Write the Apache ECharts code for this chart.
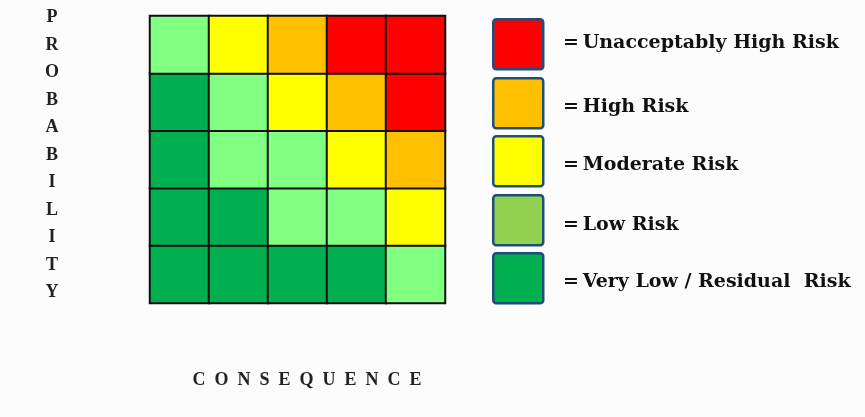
<!DOCTYPE html>
<html>
<head>
<meta charset="utf-8">
<script src="https://cdn.jsdelivr.net/npm/echarts@6/dist/echarts.min.js"></script>
<style>
html,body{margin:0;padding:0;background:#fcfcfc;}
#chart{width:865px;height:417px;}
</style>
</head>
<body>
<div id="chart"></div>
<script>
// Consequence (columns, left to right) and probability (rows, bottom to top)
const consequence = ['1', '2', '3', '4', '5'];
const probability = ['1', '2', '3', '4', '5'];
// Risk level per cell: rows listed from probability 1 (bottom) to 5 (top)
// 1 = very low, 2 = low, 3 = moderate, 4 = high, 5 = unacceptably high
const riskRows = [
  [1, 1, 1, 1, 2],
  [1, 1, 2, 2, 3],
  [1, 2, 2, 3, 4],
  [1, 2, 3, 4, 5],
  [2, 3, 4, 5, 5]
];
const levelColors = ['#00B050', '#80FF80', '#FFFF00', '#FFC000', '#FF0000'];
const legendLabels = ['=\u2009Unacceptably High Risk', '=\u2009High Risk', '=\u2009Moderate Risk', '=\u2009Low Risk', '=\u2009Very Low / Residual  Risk'];
const legendColors = ['#FF0000', '#FFC000', '#FFFF00', '#92D050', '#00B050'];
const yTitle = 'PROBABILITY';
const xTitle = 'CONSEQUENCE';

const data = [];
riskRows.forEach((row, r) => row.forEach((v, c) => data.push([c, r, v])));

const chart = echarts.init(document.getElementById('chart'));
const serif = '"Liberation Serif", "DejaVu Serif", serif';
const legendFont = '"DejaVu Serif", serif';

const legendBoxTops = [18, 77, 135, 194, 252];
const legendTextY = [43, 107, 165, 225, 282];
const graphics = [];
legendColors.forEach((col, i) => {
  graphics.push({
    type: 'rect', left: 492, top: legendBoxTops[i],
    shape: { width: 50, height: 50, r: 3 },
    style: { fill: col, stroke: '#1F4E79', lineWidth: 2.5 }
  });
  graphics.push({
    type: 'text', x: 563, y: legendTextY[i],
    style: { text: legendLabels[i], fill: '#111', font: 'bold 19px ' + legendFont, textVerticalAlign: 'middle' }
  });
});
graphics.push({
  type: 'text', x: 52, y: 4,
  style: { text: yTitle.split('').join('\n'), fill: '#222', font: 'bold 18px ' + serif, textAlign: 'center', lineHeight: 27.5 }
});
graphics.push({
  type: 'text', x: 307, y: 380,
  style: { text: xTitle.split('').join('\u2002'), fill: '#222', font: 'bold 18px ' + serif, textAlign: 'center', textVerticalAlign: 'middle' }
});

chart.setOption({
  backgroundColor: '#fcfcfc',
  animation: false,
  grid: { left: 150, top: 16, width: 295, height: 287 },
  xAxis: { type: 'category', data: consequence, axisLine: { show: false }, axisTick: { show: false }, axisLabel: { show: false }, splitLine: { show: false } },
  yAxis: { type: 'category', data: probability, axisLine: { show: false }, axisTick: { show: false }, axisLabel: { show: false }, splitLine: { show: false } },
  visualMap: {
    show: false, type: 'piecewise', dimension: 2,
    pieces: levelColors.map((c, i) => ({ value: i + 1, color: c }))
  },
  series: [{
    type: 'heatmap',
    data: data,
    itemStyle: { borderColor: '#111', borderWidth: 2 },
    emphasis: { disabled: true }
  }],
  graphic: graphics
});
</script>
</body>
</html>
